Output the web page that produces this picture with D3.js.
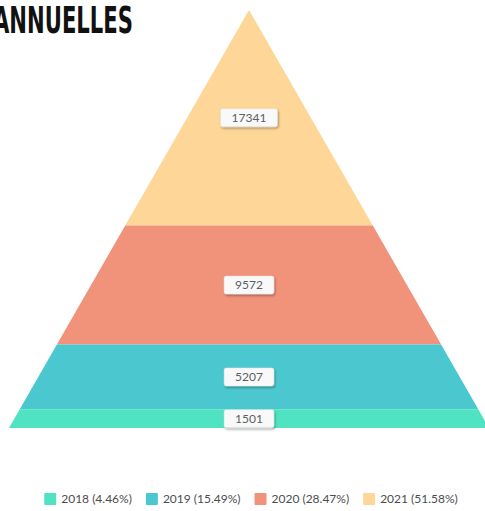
<!DOCTYPE html>
<html>
<head>
<meta charset="utf-8">
<script src="https://cdn.jsdelivr.net/npm/d3@7"></script>
<style>
  body { margin: 0; background: #fff; overflow: hidden; }
  svg { display: block; }
</style>
</head>
<body>
<svg id="chart" width="485" height="511"></svg>
<script>
// data, bottom to top
const years = ["2018", "2019", "2020", "2021"];
const values = [1501, 5207, 9572, 17341];
const colors = ["#50e3c2", "#4bc8cf", "#f1937a", "#fed697"];

const width = 485, height = 511;
const svg = d3.select("#chart");

const total = d3.sum(values);
const cx = 249, apexY = 10, baseY = 428, baseHalf = 240;

// cumulative from top (2021 first)
let stack = [];
let acc = 0;
for (let i = values.length - 1; i >= 0; i--) {
  stack.push({ year: years[i], value: values[i], color: colors[i], y0: acc, y1: acc + values[i] });
  acc += values[i];
}

const y = d3.scaleLinear().domain([0, total]).range([apexY, baseY]);
const half = d3.scaleLinear().domain([apexY, baseY]).range([0, baseHalf]);

function segPath(d) {
  let ya = y(d.y0), yb = y(d.y1);
  return "M" + (cx - half(ya)) + "," + ya +
    "L" + (cx + half(ya)) + "," + ya +
    "L" + (cx + half(yb)) + "," + yb +
    "L" + (cx - half(yb)) + "," + yb + "Z";
}

const defs = svg.append("defs");
const f = defs.append("filter").attr("id", "shadow").attr("x", "-20%").attr("y", "-30%").attr("width", "140%").attr("height", "180%");
f.append("feDropShadow").attr("dx", 1).attr("dy", 1.5).attr("stdDeviation", 1).attr("flood-color", "#000").attr("flood-opacity", 0.35);

svg.append("g")
  .selectAll("path")
  .data(stack)
  .join("path")
  .attr("d", segPath)
  .attr("fill", d => d.color);

// data labels
const lab = svg.append("g")
  .selectAll("g")
  .data(stack)
  .join("g")
  .attr("transform", d => "translate(" + cx + "," + (y(d.y0) + y(d.y1)) / 2 + ")");

lab.append("text")
  .attr("text-anchor", "middle")
  .attr("dy", "0.35em")
  .attr("font-family", "Lato, 'Open Sans', sans-serif")
  .attr("font-size", 12)
  .attr("fill", "#5b5f63")
  .text(d => d.value);

lab.each(function () {
  const g = d3.select(this);
  const w = g.select("text").node().getComputedTextLength() + 22;
  g.insert("rect", "text")
    .attr("x", -w / 2)
    .attr("y", -9)
    .attr("width", w)
    .attr("height", 18)
    .attr("rx", 2)
    .attr("fill", "#f9f9f9")
    .attr("stroke", "#e2e2e2")
    .attr("stroke-width", 0.5)
    .attr("filter", "url(#shadow)");
});

// title (cut off on the left)
svg.append("text")
  .attr("x", 133)
  .attr("y", 33)
  .attr("text-anchor", "end")
  .attr("font-family", "'DejaVu Sans Condensed', 'Liberation Sans Narrow', sans-serif")
  .attr("font-weight", "bold")
  .attr("font-size", 38)
  .attr("textLength", 140)
  .attr("lengthAdjust", "spacingAndGlyphs")
  .attr("fill", "#111")
  .text("ANNUELLES");

// legend
const legend = svg.append("g");
let lx = 0;
years.forEach((yr, i) => {
  const item = legend.append("g").attr("transform", "translate(" + lx + ",0)");
  item.append("rect")
    .attr("x", 0).attr("y", -6)
    .attr("width", 12).attr("height", 12)
    .attr("rx", 1)
    .attr("fill", colors[i]);
  const t = item.append("text")
    .attr("x", 17)
    .attr("dy", "0.35em")
    .attr("font-family", "Lato, 'Open Sans', sans-serif")
    .attr("font-size", 12)
    .attr("fill", "#4a4d50")
    .text(yr + " (" + (values[i] / total * 100).toFixed(2) + "%)");
  lx += 17 + t.node().getComputedTextLength() + 14;
});
const legW = lx - 14;
legend.attr("transform", "translate(" + (251 - legW / 2) + ",499)");
</script>
</body>
</html>
